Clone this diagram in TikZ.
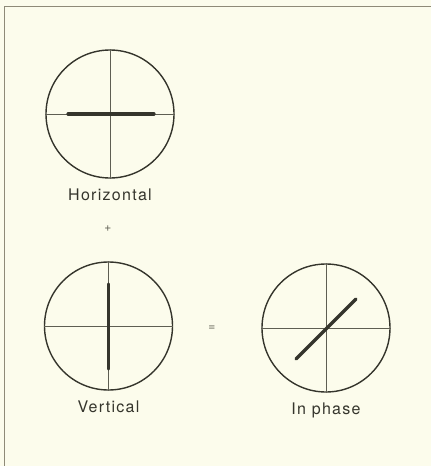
\documentclass[tikz,border=0pt]{standalone}
\usepackage{fontspec}
\setmainfont{TeX Gyre Heros}
\usepackage{tikz}
\usetikzlibrary{positioning}
\definecolor{paper}{HTML}{FCFCEC}
\definecolor{ink}{HTML}{35352C}
\definecolor{grid}{HTML}{5E5E52}
\definecolor{frame}{HTML}{8E8A78}
\tikzset{
  scope/.style={circle,draw=ink,line width=1.4pt,minimum size=128pt,inner sep=0pt},
  graticule/.style={grid,line width=0.6pt},
  trace/.style={ink,line width=3.2pt,line cap=round},
  caption/.style={font=\fontsize{16}{18}\selectfont\addfontfeature{LetterSpace=8},text=ink},
  sign/.style={font=\fontsize{12}{12}\selectfont,text=grid}
}
\begin{document}
\begin{tikzpicture}[x=1pt,y=-1pt]
  % paper and frame
  \fill[paper](0,0)rectangle(431,466);
  \useasboundingbox(0,0)rectangle(431,466);
  \draw[frame,line width=0.8pt](5,6)--(431,6);
  \draw[frame,line width=0.8pt](4,6)--(4,466);

  % screens
  \node[scope](hor)at(110,114){};
  \node[scope](ver)at(108.5,326){};
  \node[scope](inp)at(326,328){};

  % graticules
  \foreach \s in {hor,ver,inp}{
    \draw[graticule](\s.north)--(\s.south);
    \draw[graticule](\s.west)--(\s.east);
  }

  % traces
  \draw[trace]([xshift=-42pt]hor.center)--([xshift=44pt]hor.center);
  \draw[trace]([yshift=42pt]ver.center)--([yshift=-43pt]ver.center);
  \draw[trace]([shift={(-30pt,-31pt)}]inp.center)--([shift={(30pt,29pt)}]inp.center);

  % labels
  \node[caption,below=7pt of hor](hlbl){Horizontal};
  \node[caption,below=7pt of ver](vlbl){Vertical};
  \node[caption,below=7pt of inp](plbl){In phase};
  \node[sign](plus)at(108,229){+};
  \node[sign](eq)at(212,328){=};
\end{tikzpicture}
\end{document}
